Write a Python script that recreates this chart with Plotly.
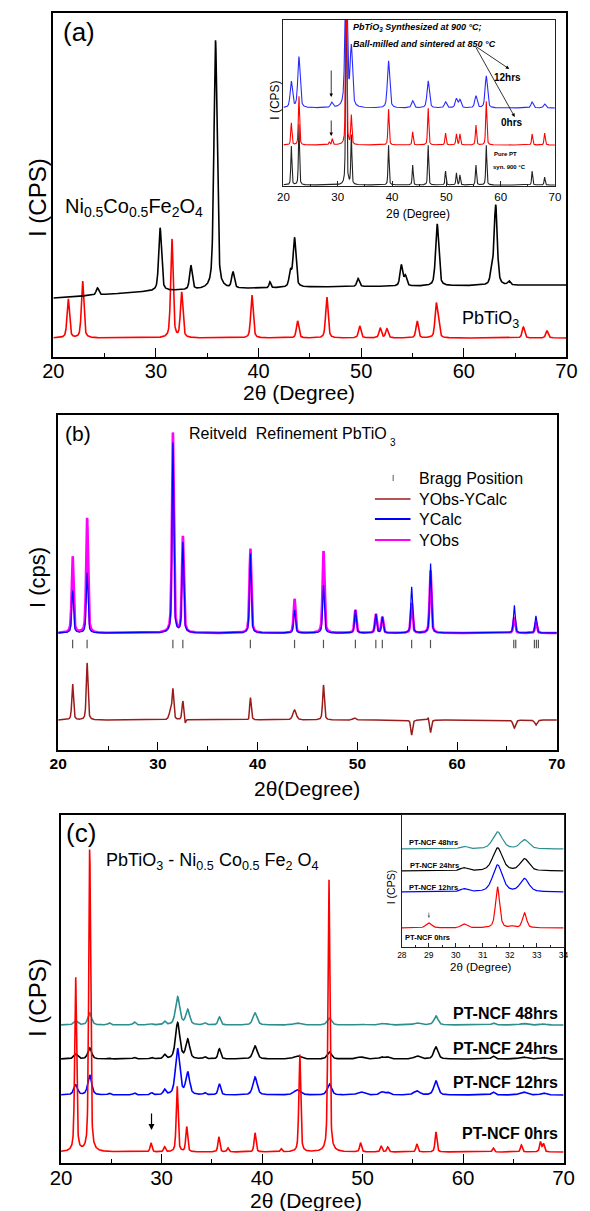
import numpy as np
import plotly.graph_objects as go

W, H = 590, 1211
FONT = "Arial, Liberation Sans, sans-serif"

# ----------------------------- DATA -----------------------------
# Panel (a) main : PbTiO3 (red) and Ni0.5Co0.5Fe2O4 (black)
a_pt_pos = [21.45, 22.85, 31.55, 32.5, 39.35, 43.8, 46.65, 49.85, 51.85, 52.5, 55.45, 57.3, 57.5, 65.8, 68.1]
a_pt_h = [39, 57, 99, 45, 43, 17, 41, 12, 10, 9, 17, 31, 14, 11, 7]
a_pt_w = [0.28] * 15
a_pt_base = 19
a_ncf_pos = [24.3, 30.4, 33.4, 35.8, 37.5, 41.1, 43.1, 43.5, 49.7, 53.9, 54.3, 57.4, 62.7, 63.1, 64.4]
a_ncf_h = [7, 63, 24, 249, 16, 6, 15, 49, 8, 21, 10, 62, 13, 80, 4]
a_ncf_w = [0.3, 0.32, 0.3, 0.36, 0.3, 0.2, 0.3, 0.32, 0.3, 0.3, 0.3, 0.36, 0.3, 0.36, 0.3]
a_ncf_bg_x = [20, 30, 45, 70]
a_ncf_bg_y = [59, 66, 70, 72]

# Panel (a) inset : pure PT (black), 0 hrs (red), 12 hrs (blue)
ia_pos = [21.45, 22.85, 31.55, 32.5, 39.35, 43.8, 46.65, 49.85, 51.85, 52.5, 55.45, 57.35, 65.8, 68.1]
ia_black_h = [39, 61, 220, 49, 40, 20, 40, 14, 12, 10, 20, 40, 14, 8]
ia_black_base = 1
ia_red_h = [22, 49, 180, 29, 36, 13, 37, 12, 11, 11, 20, 44, 11, 12]
ia_red_base = 41
ia_red_extra_pos = [28.45, 29.0]
ia_red_extra_h = [3, 6]
ia_blue_h = [26, 51, 150, 59, 47, 7, 27, 6, 9, 8, 12, 32, 6, 4]
ia_blue_base = 78
ia_blue_extra_pos = [28.9]
ia_blue_extra_h = [5]

# Panel (b) Rietveld
b_pos = [21.45, 22.9, 31.5, 32.5, 39.27, 43.7, 46.6, 49.8, 51.85, 52.5, 55.44, 57.33, 65.73, 67.9]
b_obs_h = [77, 115, 200, 96, 85, 34, 82, 23, 19, 16, 30, 63, 16, 11]
b_calc_h = [43, 60, 190, 90, 80, 23, 48, 23, 19, 16, 46, 70, 28, 17]
b_base = 117
b_diff_pos = [21.45, 22.9, 31.25, 31.5, 32.5, 32.72, 39.12, 39.27, 43.7, 46.6, 49.7, 55.44, 57.1, 57.33, 65.73, 67.9]
b_diff_h = [36, 57, 8, 30, 19, -5, -3, 23, 10, 35, 2, -15, 3, -13, -8, -5]
b_diff_w = [0.2, 0.2, 0.3, 0.2, 0.2, 0.15, 0.15, 0.2, 0.4, 0.2, 0.3, 0.2, 0.2, 0.2, 0.3, 0.3]
b_diff_base = 30
b_bragg = [21.45, 22.9, 31.5, 32.5, 39.27, 43.7, 46.6, 49.8, 51.85, 52.5, 55.44, 57.33,
           65.68, 65.88, 67.75, 67.95, 68.15]
b_bragg_level = 106

# Panel (c) main
c_red_pos = [21.45, 22.85, 28.95, 30.3, 31.55, 32.5, 35.7, 36.6, 39.3, 41.9, 43.75, 46.65,
             49.8, 51.85, 52.5, 55.4, 57.3, 63.0, 65.8, 67.7, 68.0]
c_red_h = [175, 304, 9, 5, 66, 25, 15, 4, 19, 3, 98, 274, 9, 6, 5, 8, 20, 4, 7, 10, 8]
c_red_base = 11
c_pos = [21.45, 22.85, 24.8, 27.3, 29.0, 30.3, 31.6, 32.6, 34.3, 35.75, 39.3, 43.5, 46.7,
         49.8, 51.9, 52.5, 55.4, 57.3, 63.0, 66.0, 68.0]
c_w = [0.45, 0.45, 0.3, 0.3, 0.3, 0.3, 0.5, 0.45, 0.3, 0.3, 0.5, 0.8, 0.5,
       0.8, 0.5, 0.5, 0.7, 0.5, 0.4, 0.8, 0.6]
c_blue_h = [10, 20, 1.5, 2, 2, 5, 46, 22, 2, 11, 18, 5, 11, 3, 3, 2.5, 4, 14, 3, 3, 2]
c_blue_base = 68
c_black_h = [5, 11, 1, 1.5, 1.5, 4, 36, 19, 2, 10, 13, 3, 7, 2, 2, 2, 3, 12, 3, 2, 1.5]
c_black_base = 104
c_teal_h = [4, 12, 2, 3, 1, 3.5, 28, 15, 2, 8, 12, 2, 7, 1, 1.5, 1, 2, 9, 2, 1.5, 1]
c_teal_base = 138
c_labels = ["PT-NCF 48hrs", "PT-NCF 24hrs", "PT-NCF 12hrs", "PT-NCF 0hrs"]

# Panel (c) inset (28-34 deg)
ic_pos = [29.0, 30.3, 31.55, 32.1, 32.55]
ic_red_h = [5, 4, 41, 1.5, 15]
ic_red_w = [0.25, 0.25, 0.18, 0.2, 0.18]
ic_red_base = 19
ic_blue_h = [0.5, 3, 27, 0, 13]
ic_blue_base = 55
ic_black_h = [0.5, 3, 23, 0, 12]
ic_black_base = 76
ic_teal_h = [0.3, 2.5, 17, 0, 9]
ic_teal_base = 98
ic_w = [0.3, 0.3, 0.42, 0.3, 0.38]


# ----------------------------- HELPERS -----------------------------
def prof(x, pos, h, w, eta=0.5):
    x = np.asarray(x, float)[:, None]
    p = np.asarray(pos, float)[None, :]
    hh = np.asarray(h, float)[None, :]
    ww = np.broadcast_to(np.asarray(w, float), (len(pos),))[None, :]
    d = (x - p) / ww
    g = np.exp(-4 * np.log(2) * d ** 2)
    lor = 1.0 / (1.0 + 4 * d ** 2)
    return (hh * (eta * lor + (1 - eta) * g)).sum(axis=1)


def fx(px):
    return px / W


def fy(py):
    return 1 - py / H


X = np.linspace(20, 70, 2501)
XI = np.linspace(28, 34, 601)

fig = go.Figure()


def line(x, y, color, width, xa, ya):
    fig.add_trace(go.Scatter(x=x, y=y, mode="lines", line=dict(color=color, width=width),
                             xaxis=xa, yaxis=ya, showlegend=False, hoverinfo="skip"))


RED, BLUE, BLACK, TEAL, MAG, DRED = "#ff0000", "#0000ff", "#000000", "#2b8f8f", "#ff00ff", "#9b1b1b"

# panel a main
line(X, a_pt_base + prof(X, a_pt_pos, a_pt_h, a_pt_w), RED, 1.6, "x", "y")
line(X, np.interp(X, a_ncf_bg_x, a_ncf_bg_y) + prof(X, a_ncf_pos, a_ncf_h, a_ncf_w), BLACK, 1.6, "x", "y")

# panel a inset
line(X, ia_black_base + prof(X, ia_pos, ia_black_h, 0.22), "#222222", 1.1, "x2", "y2")
line(X, ia_red_base + prof(X, ia_pos + ia_red_extra_pos, ia_red_h + ia_red_extra_h, 0.25), RED, 1.1, "x2", "y2")
line(X, ia_blue_base + prof(X, ia_pos + ia_blue_extra_pos, ia_blue_h + ia_blue_extra_h, 0.5), "#2a2aff", 1.1, "x2", "y2")

# panel b
line(X, b_base + prof(X, b_pos, b_obs_h, 0.22), MAG, 2.6, "x3", "y3")
line(X, b_base + prof(X, b_pos, b_calc_h, 0.2), BLUE, 1.2, "x3", "y3")
line(X, b_diff_base + prof(X, b_diff_pos, b_diff_h, b_diff_w), DRED, 1.5, "x3", "y3")
fig.add_trace(go.Scatter(x=b_bragg, y=[b_bragg_level] * len(b_bragg), mode="markers",
                         marker=dict(symbol="line-ns", size=6, line=dict(width=1.2, color="#555555")),
                         xaxis="x3", yaxis="y3", showlegend=False, hoverinfo="skip"))

# panel c main
line(X, c_teal_base + prof(X, c_pos, c_teal_h, c_w), TEAL, 1.6, "x4", "y4")
line(X, c_black_base + prof(X, c_pos, c_black_h, c_w), BLACK, 1.6, "x4", "y4")
line(X, c_blue_base + prof(X, c_pos, c_blue_h, c_w), BLUE, 1.6, "x4", "y4")
line(X, c_red_base + prof(X, c_red_pos, c_red_h, 0.22), RED, 1.6, "x4", "y4")

# panel c inset
line(XI, ic_teal_base + prof(XI, ic_pos, ic_teal_h, ic_w), TEAL, 1.2, "x5", "y5")
line(XI, ic_black_base + prof(XI, ic_pos, ic_black_h, ic_w), BLACK, 1.2, "x5", "y5")
line(XI, ic_blue_base + prof(XI, ic_pos, ic_blue_h, ic_w), BLUE, 1.2, "x5", "y5")
line(XI, ic_red_base + prof(XI, ic_pos, ic_red_h, ic_red_w), RED, 1.2, "x5", "y5")


# ----------------------------- AXES -----------------------------
def xax(l, r, anchor, rng, dtick, mdtick, lw, tlen, fsize, bold=False, lcolor="black", standoff=0):
    return dict(domain=[fx(l), fx(r)], anchor=anchor, range=rng, showline=True, mirror=True,
                linecolor=lcolor, linewidth=lw, ticks="inside", ticklen=tlen, tickwidth=1.2,
                tickcolor=lcolor, dtick=dtick, tick0=0, ticklabelstandoff=standoff,
                minor=dict(ticks="inside", ticklen=max(2, int(tlen * 0.5)), dtick=mdtick, tick0=0,
                           tickwidth=1, tickcolor=lcolor),
                showgrid=False, zeroline=False, fixedrange=True,
                tickfont=dict(family=FONT, size=fsize, color="black", weight="bold" if bold else "normal"))


def yax(t, b, anchor, top, lw, lcolor="black"):
    return dict(domain=[fy(b), fy(t)], anchor=anchor, range=[0, top], showline=True, mirror=True,
                linecolor=lcolor, linewidth=lw, ticks="", showticklabels=False, showgrid=False,
                zeroline=False, fixedrange=True)


fig.update_layout(
    width=W, height=H, autosize=False, margin=dict(l=0, r=0, t=0, b=0),
    paper_bgcolor="white", plot_bgcolor="rgba(0,0,0,0)", showlegend=False,
    font=dict(family=FONT, color="black"),
    xaxis=xax(44, 577, "y", [20, 70], 10, 5, 2, 9, 20, standoff=-5),
    yaxis=yax(13, 357, "x", 344, 2),
    xaxis2=xax(283, 565, "y2", [20, 70], 10, 5, 1.2, 5, 11.5, lcolor="#222222"),
    yaxis2=yax(20, 186, "x2", 166, 1.2, lcolor="#222222"),
    xaxis3=xax(49, 567, "y3", [20, 70], 10, 5, 2, 8, 15.5, bold=True, standoff=-2),
    yaxis3=yax(415, 750, "x3", 335, 2),
    xaxis4=xax(52, 574, "y4", [20, 70], 10, 5, 2, 9, 20.5, standoff=-5),
    yaxis4=yax(815, 1163, "x4", 348, 2),
    xaxis5=xax(406, 574, "y5", [28, 34], 1, 0.5, 1.2, 4, 8.5, lcolor="#222222"),
    yaxis5=yax(815, 947, "x5", 132, 1.2, lcolor="#222222"),
)

# ----------------------------- TEXT -----------------------------
anns = []


def txt(text, x, y, size, xanchor="left", angle=0, color="black"):
    anns.append(dict(text=text, x=fx(x), y=fy(y), xref="paper", yref="paper", showarrow=False,
                     xanchor=xanchor, yanchor="middle", textangle=angle,
                     font=dict(family=FONT, size=size, color=color)))


def arrow(xa, ya, x0, y0, x1, y1, color="black", width=1.0, size=1.0):
    anns.append(dict(text="", x=x1, y=y1, ax=x0, ay=y0, xref=xa, yref=ya, axref=xa, ayref=ya,
                     showarrow=True, arrowhead=2, arrowsize=size, arrowwidth=width, arrowcolor=color))


# panel a
txt("(a)", 71, 32, 26, "center")
txt("Ni<sub>0.5</sub>Co<sub>0.5</sub>Fe<sub>2</sub>O<sub>4</sub>", 54, 207, 20)
txt("PbTiO<sub>3</sub>", 466, 320, 18)
txt("I (CPS)", 27, 197, 24, "center", -90)
txt("2θ (Degree)", 299, 393, 21, "center")
# inset a
txt("<b><i>PbTiO<sub>3</sub> Synthesized at 900 °C;</i></b>", 353, 28, 9)
txt("<b><i>Ball-milled and sintered at 850 °C</i></b>", 353, 44, 9)
txt("<b>12hrs</b>", 516, 77, 10, "center")
txt("<b>0hrs</b>", 520, 123, 10, "center")
txt("<b>Pure PT</b>", 500, 154, 6)
txt("<b>syn. 900 °C</b>", 499, 167, 6)
txt("I (CPS)", 274, 100, 12, "center", -90)
txt("2θ (Degree)", 423, 214, 12, "center")
arrow("x2", "y2", 55.3, 140, 61.6, 117, width=0.8, size=0.9)
arrow("x2", "y2", 55.3, 140, 62.6, 69, width=0.8, size=0.9)
arrow("x2", "y2", 28.8, 117, 28.8, 89, width=0.8, size=0.9)
arrow("x2", "y2", 28.8, 67, 28.8, 50, width=0.8, size=0.9)

# panel b
txt("(b)", 70, 433, 21, "center")
txt("Reitveld  Refinement PbTiO", 183, 433, 16)
txt("3", 397, 442, 10, "center")
txt("I (cps)", 27, 577, 22, "center", -90)
txt("2θ(Degree)", 307, 788, 21, "center")
txt("Bragg Position", 422, 478, 16)
txt("YObs-YCalc", 422, 499, 16)
txt("YCalc", 422, 519, 16)
txt("YObs", 422, 540, 16)

# panel c
txt("(c)", 73, 833, 26, "center")
txt("PbTiO<sub>3</sub> - Ni<sub>0.5</sub> Co<sub>0.5</sub> Fe<sub>2</sub> O<sub>4</sub>", 97, 862, 18)
for lab, yy in zip(c_labels, [1013, 1048, 1082, 1133]):
    txt("<b>" + lab + "</b>", 570, yy, 16, "right")
txt("I (CPS)", 27, 997, 24, "center", -90)
txt("2θ (Degree)", 306, 1200, 21, "center")
arrow("x4", "y4", 29, 51, 29, 33, width=1.2, size=1.0)
# inset c
for lab, xx, yy in zip(c_labels, [411, 412, 411, 407], [842, 865, 887, 937]):
    txt("<b>" + lab + "</b>", xx, yy, 7.5)
txt("I (CPS)", 395, 887, 10.5, "center", -90)
txt("2θ (Degree)", 488, 967, 11.5, "center")
arrow("x5", "y5", 29, 36, 29, 29, color="#666666", width=0.7, size=0.7)

fig.update_layout(annotations=anns)

# legend of panel b (decoration)
shapes = []
for yy, col, wd in [(499, DRED, 1.5), (519, BLUE, 2), (540, MAG, 2)]:
    shapes.append(dict(type="line", xref="paper", yref="paper", x0=fx(378), x1=fx(415),
                       y0=fy(yy), y1=fy(yy), line=dict(color=col, width=wd)))
shapes.append(dict(type="line", xref="paper", yref="paper", x0=fx(397), x1=fx(397),
                   y0=fy(475), y1=fy(481), line=dict(color="#777777", width=1.2)))
fig.update_layout(shapes=shapes)

fig.write_html("out.html")
